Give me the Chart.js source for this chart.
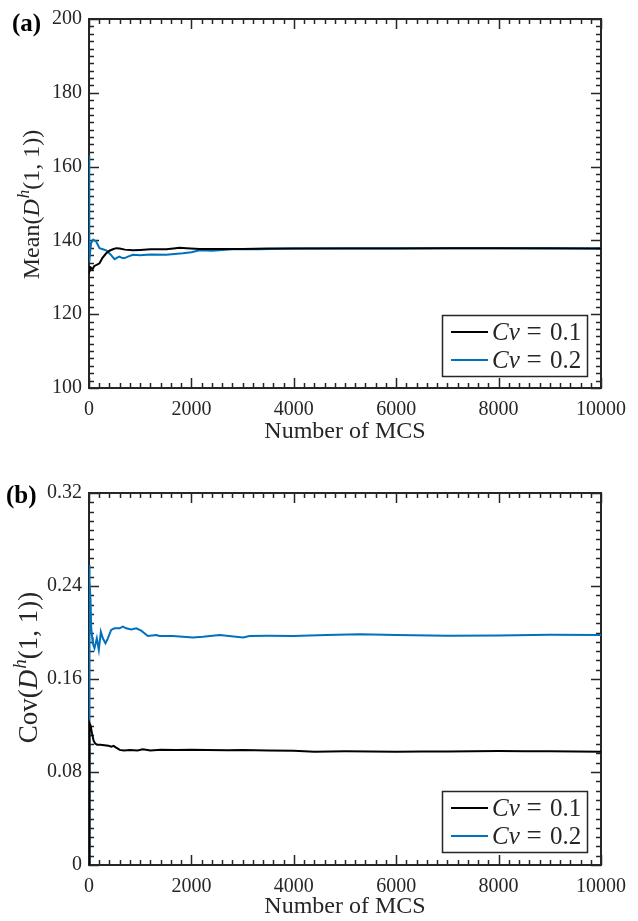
<!DOCTYPE html>
<html>
<head>
<meta charset="utf-8">
<script src="https://cdn.jsdelivr.net/npm/chart.js@4.4.0/dist/chart.umd.min.js"></script>
<style>
  html, body { margin: 0; padding: 0; background: #fff; }
  #wrap { position: relative; width: 638px; height: 921px; }
  canvas { position: absolute; left: 0; }
</style>
</head>
<body>
<div id="wrap">
  <canvas id="meanChart" width="638" height="460" style="top:0"></canvas>
  <canvas id="covChart" width="638" height="461" style="top:460px"></canvas>
</div>
<script>
// ---- data ----
const mcsTicks = [0, 2000, 4000, 6000, 8000, 10000];
const meanTicks = [100, 120, 140, 160, 180, 200];
const covTicks = [0, 0.08, 0.16, 0.24, 0.32];
const seriesLabels = ["Cv = 0.1", "Cv = 0.2"];

// (a) Mean, Cv = 0.1
const meanMcs1 = [0, 15, 40, 70, 100, 150, 205, 260, 336, 400, 466, 531, 600, 700, 857, 1000, 1200, 1400, 1508, 1650, 1769, 1900, 2160, 2500, 3000, 3500, 4000, 5000, 6000, 7000, 8000, 9000, 10000];
const meanVal1 = [133, 131.8, 132.6, 132.2, 133.0, 133.4, 133.8, 135.2, 136.5, 137.2, 137.6, 137.9, 137.8, 137.5, 137.3, 137.4, 137.6, 137.6, 137.6, 137.8, 138.0, 137.9, 137.7, 137.7, 137.7, 137.8, 137.8, 137.8, 137.8, 137.9, 137.9, 137.9, 137.8];

// (a) Mean, Cv = 0.2
const meanMcs2 = [0, 3, 8, 20, 42, 80, 140, 205, 270, 336, 420, 498, 560, 596, 650, 694, 760, 857, 1000, 1200, 1508, 1834, 2000, 2160, 2400, 2811, 3300, 4000, 5000, 6000, 7000, 8000, 9000, 10000];
const meanVal2 = [163, 150, 134, 136.5, 139.3, 140.2, 139.7, 137.9, 137.6, 137.3, 136.2, 134.9, 135.4, 135.6, 135.2, 135.2, 135.6, 136.1, 136.0, 136.2, 136.1, 136.5, 136.8, 137.3, 137.2, 137.6, 137.6, 137.8, 137.9, 137.9, 137.9, 137.9, 137.8, 137.8];

// (b) Cov, Cv = 0.1
const covMcs1 = [0, 10, 30, 60, 90, 120, 160, 220, 300, 380, 440, 480, 530, 600, 680, 800, 950, 1050, 1200, 1400, 1700, 2000, 2300, 2700, 3000, 3500, 4000, 4400, 5000, 5500, 6000, 6500, 7000, 7500, 8000, 8500, 9000, 9500, 10000];
const covVal1 = [0, 0.122, 0.12, 0.113, 0.107, 0.1045, 0.1035, 0.1035, 0.103, 0.1025, 0.1018, 0.1025, 0.101, 0.099, 0.0985, 0.099, 0.0985, 0.0995, 0.0985, 0.0992, 0.099, 0.0992, 0.099, 0.0988, 0.099, 0.0985, 0.0982, 0.0975, 0.0978, 0.0976, 0.0975, 0.0977, 0.0976, 0.0978, 0.098, 0.0978, 0.0979, 0.0976, 0.0975];

// (b) Cov, Cv = 0.2
const covMcs2 = [0, 5, 15, 30, 42, 60, 75, 107, 153, 192, 231, 270, 322, 368, 433, 498, 596, 661, 726, 824, 922, 1020, 1150, 1313, 1378, 1639, 2030, 2225, 2551, 3007, 3138, 3500, 3985, 4637, 5288, 6000, 7000, 8000, 9000, 10000];
const covVal2 = [0, 0.258, 0.245, 0.228, 0.205, 0.196, 0.1907, 0.1864, 0.195, 0.185, 0.2007, 0.195, 0.1907, 0.195, 0.2022, 0.2036, 0.2036, 0.205, 0.2036, 0.2027, 0.2036, 0.2016, 0.197, 0.1978, 0.197, 0.197, 0.1958, 0.1964, 0.1978, 0.1958, 0.197, 0.1972, 0.197, 0.1978, 0.1985, 0.1978, 0.1972, 0.1975, 0.198, 0.1978];

const INK = "#262626";
const BLUE = "#0072BD";
const SERIF = "'Liberation Serif', 'Times New Roman', serif";

function toPoints(xs, ys) {
  return xs.map((x, i) => ({ x, y: ys[i] }));
}

// MATLAB-like box with inward ticks on all four sides
const frame = {
  id: "frame",
  beforeDatasetsDraw(chart, args, o) {
    const { ctx, chartArea: a, scales: { x, y } } = chart;
    ctx.save();
    ctx.strokeStyle = INK;
    ctx.lineWidth = 1.5;
    ctx.beginPath();
    const nx = Math.round((o.xMax - o.xMin) / o.xMinor);
    for (let i = 0; i <= nx; i++) {
      const v = o.xMin + i * o.xMinor;
      const len = i % o.xEvery === 0 ? 10 : 5;
      const px = Math.round(x.getPixelForValue(v)) + 0.5;
      ctx.moveTo(px, a.bottom); ctx.lineTo(px, a.bottom - len);
      ctx.moveTo(px, a.top); ctx.lineTo(px, a.top + len);
    }
    const ny = Math.round((o.yMax - o.yMin) / o.yMinor);
    for (let i = 0; i <= ny; i++) {
      const v = o.yMin + i * o.yMinor;
      const len = i % o.yEvery === 0 ? 10 : 5;
      const py = Math.round(y.getPixelForValue(v)) + 0.5;
      ctx.moveTo(a.left, py); ctx.lineTo(a.left + len, py);
      ctx.moveTo(a.right, py); ctx.lineTo(a.right - len, py);
    }
    ctx.stroke();
    ctx.lineWidth = 2;
    ctx.strokeRect(a.left, a.top, a.right - a.left, a.bottom - a.top);
    ctx.restore();
  }
};

// rotated y title with italic D and superscript h
const yTitle = {
  id: "yTitle",
  afterDraw(chart, args, o) {
    const { ctx } = chart;
    const f = o.size;
    const parts = [
      { t: o.prefix, font: `${f}px ${SERIF}`, dy: 0 },
      { t: "D", font: `italic ${f}px ${SERIF}`, dy: 0 },
      { t: "h", font: `italic ${Math.round(f * 0.7)}px ${SERIF}`, dy: -f * 0.42 },
      { t: "(1, 1))", font: `${f}px ${SERIF}`, dy: 0 }
    ];
    ctx.save();
    let total = 0;
    parts.forEach(p => { ctx.font = p.font; p.w = ctx.measureText(p.t).width; total += p.w; });
    ctx.translate(o.x, o.cy);
    ctx.rotate(-Math.PI / 2);
    ctx.fillStyle = INK;
    ctx.textBaseline = "alphabetic";
    let cx = -total / 2;
    parts.forEach(p => { ctx.font = p.font; ctx.fillText(p.t, cx, p.dy); cx += p.w + (p.t === "D" ? 1 : 0); });
    ctx.restore();
  }
};

// boxed legend in the lower right corner
const boxLegend = {
  id: "boxLegend",
  afterDraw(chart, args, o) {
    const { ctx, chartArea: a } = chart;
    const w = 145, h = 61;
    const left = a.right - o.right - w, top = a.bottom - o.bottom - h;
    ctx.save();
    ctx.fillStyle = "#fff";
    ctx.fillRect(left, top, w, h);
    ctx.strokeStyle = INK;
    ctx.lineWidth = 1.5;
    ctx.strokeRect(left + 0.5, top + 0.5, w, h);
    chart.data.datasets.forEach((ds, i) => {
      const cy = top + 17 + i * 28;
      ctx.strokeStyle = ds.borderColor;
      ctx.lineWidth = 2;
      ctx.beginPath();
      ctx.moveTo(left + 9, cy); ctx.lineTo(left + 46, cy);
      ctx.stroke();
      const [name, val] = ds.label.split(" = ");
      ctx.fillStyle = INK;
      ctx.textBaseline = "middle";
      ctx.font = `italic 25px ${SERIF}`;
      ctx.textAlign = "left";
      ctx.fillText(name, left + 50, cy + 1);
      ctx.font = `27px ${SERIF}`;
      ctx.textAlign = "center";
      ctx.fillText("=", left + 92, cy + 1);
      ctx.font = `25px ${SERIF}`;
      ctx.textAlign = "left";
      ctx.fillText(val, left + 108, cy + 1);
    });
    ctx.restore();
  }
};

const panelTag = {
  id: "panelTag",
  afterDraw(chart, args, o) {
    const { ctx } = chart;
    ctx.save();
    ctx.font = `bold ${o.size}px ${SERIF}`;
    ctx.fillStyle = "#000";
    ctx.textBaseline = "alphabetic";
    ctx.fillText(o.text, o.x, o.y);
    ctx.restore();
  }
};

function makeChart(id, cfg) {
  return new Chart(document.getElementById(id), {
    type: "line",
    data: {
      datasets: [
        { label: seriesLabels[0], data: toPoints(cfg.xs1, cfg.ys1), borderColor: "#000", borderWidth: 2, pointRadius: 0, tension: 0 },
        { label: seriesLabels[1], data: toPoints(cfg.xs2, cfg.ys2), borderColor: BLUE, borderWidth: 2, pointRadius: 0, tension: 0 }
      ]
    },
    options: {
      responsive: false,
      animation: false,
      layout: { padding: { left: 0, right: 37, top: cfg.top, bottom: 0 } },
      plugins: {
        legend: { display: false },
        tooltip: { enabled: false },
        frame: { xMin: 0, xMax: 10000, xMinor: 200, xEvery: 10, yMin: cfg.yMin, yMax: cfg.yMax, yMinor: cfg.yMinor, yEvery: 10 },
        yTitle: { prefix: cfg.prefix, size: cfg.titleSize, x: cfg.titleX, cy: cfg.titleY },
        boxLegend: { right: 14, bottom: cfg.legendBottom },
        panelTag: { text: cfg.tag, size: 25, x: cfg.tagX, y: cfg.tagY }
      },
      scales: {
        x: {
          type: "linear",
          min: 0, max: 10000,
          afterBuildTicks: s => { s.ticks = mcsTicks.map(v => ({ value: v })); },
          afterFit: s => { s.height = cfg.xHeight; },
          grid: { display: false, drawTicks: false },
          border: { display: false },
          ticks: { autoSkip: false, maxRotation: 0, padding: 10, color: INK, font: { family: SERIF, size: 20 }, callback: v => String(v) },
          title: { display: true, text: "Number of MCS", color: INK, font: { family: SERIF, size: 24 }, padding: { top: 0, bottom: cfg.titlePad } }
        },
        y: {
          min: cfg.yMin, max: cfg.yMax,
          afterBuildTicks: s => { s.ticks = cfg.yTicks.map(v => ({ value: v })); },
          afterFit: s => { s.width = 89; },
          grid: { display: false, drawTicks: false },
          border: { display: false },
          ticks: { padding: 7, color: INK, font: { family: SERIF, size: 20 }, callback: cfg.fmt }
        }
      }
    },
    plugins: [frame, yTitle, boxLegend, panelTag]
  });
}

makeChart("meanChart", {
  xs1: meanMcs1, ys1: meanVal1, xs2: meanMcs2, ys2: meanVal2,
  yMin: 100, yMax: 200, yMinor: 2, yTicks: meanTicks,
  fmt: v => String(v),
  top: 19, xHeight: 72, titlePad: 14,
  prefix: "Mean(", titleSize: 24, titleX: 39, titleY: 205,
  legendBottom: 12,
  tag: "(a)", tagX: 12, tagY: 31
});

makeChart("covChart", {
  xs1: covMcs1, ys1: covVal1, xs2: covMcs2, ys2: covVal2,
  yMin: 0, yMax: 0.32, yMinor: 0.008, yTicks: covTicks,
  fmt: v => (v === 0 ? "0" : v.toFixed(2)),
  top: 33, xHeight: 56, titlePad: 0,
  prefix: "Cov(", titleSize: 27, titleX: 37, titleY: 208,
  legendBottom: 13,
  tag: "(b)", tagX: 6, tagY: 43
});
</script>
</body>
</html>
